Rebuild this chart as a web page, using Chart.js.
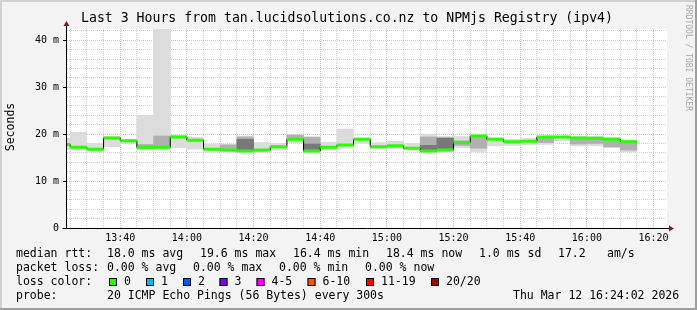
<!DOCTYPE html>
<html>
<head>
<meta charset="utf-8">
<script src="https://cdn.jsdelivr.net/npm/chart.js@4.4.1/dist/chart.umd.min.js"></script>
<style>
  html, body { margin: 0; padding: 0; background: #f3f3f3; }
  #smoke { display: block; }
</style>
</head>
<body>
<canvas id="smoke" width="697" height="310"></canvas>
<script>
// 5 minute slots (start time), median rtt and smoke ranges in ms
const slotStarts = ['13:20','13:25','13:30','13:35','13:40','13:45','13:50','13:55','14:00','14:05',
  '14:10','14:15','14:20','14:25','14:30','14:35','14:40','14:45','14:50','14:55',
  '15:00','15:05','15:10','15:15','15:20','15:25','15:30','15:35','15:40','15:45',
  '15:50','15:55','16:00','16:05','16:10'];
const medianRtt = [17.8,17.2,16.8,19.2,18.6,17.2,17.2,19.4,18.7,16.8,
  16.6,16.4,16.6,17.3,18.9,16.4,17.2,17.7,18.9,17.3,
  17.5,17.0,16.4,16.6,18.2,19.6,18.9,18.4,18.5,19.4,
  19.4,19.2,19.1,18.9,18.4];
const smokeLow = [16.7,16.8,16.4,17.3,18.1,16.7,16.8,17.1,16.8,16.5,
  16.4,16.3,16.3,16.6,18.2,16.3,16.7,17.0,18.0,16.9,
  17.1,16.8,16.2,16.5,17.1,16.2,17.5,17.6,17.7,17.8,
  18.6,17.5,17.5,17.1,16.2];
const smokeHigh = [19.1,20.4,18.0,19.5,18.9,24.0,42.5,19.8,19.3,17.9,
  17.8,19.6,18.2,18.0,19.8,19.5,18.3,21.1,19.2,18.2,
  18.5,18.0,20.0,19.5,19.5,19.7,19.2,18.9,19.1,19.6,
  19.5,19.5,19.5,19.3,18.7];
const midLow = [null,null,null,null,null,16.9,17.0,null,null,null,
  16.5,16.4,null,null,18.9,16.4,null,null,null,null,
  null,null,16.6,16.6,17.6,17.0,null,null,null,18.2,
  null,17.9,18.0,17.3,16.6];
const midHigh = [null,null,null,null,null,17.8,19.6,null,null,null,
  17.7,19.4,null,null,19.8,19.3,null,null,null,null,
  null,null,19.4,19.3,18.6,19.4,null,null,null,19.2,
  null,19.0,19.1,18.9,18.4];
const darkLow = [null,null,null,null,null,null,null,null,null,null,
  null,16.6,null,null,null,16.5,null,null,null,null,
  null,null,16.6,16.9,null,null,null,null,null,null,
  null,null,null,null,null];
const darkHigh = [null,null,null,null,null,null,null,null,null,null,
  null,18.9,null,null,null,17.9,null,null,null,null,
  null,null,17.6,19.1,null,null,null,null,null,null,
  null,null,null,null,null];

const yTickValues = [0, 10, 20, 30, 40];
const yTickLabels = ['0', '10 m', '20 m', '30 m', '40 m'];
const xTickLabels = ['13:40','14:00','14:20','14:40','15:00','15:20','15:40','16:00','16:20'];

const lossLabels = ['0', '1', '2', '3', '4-5', '6-10', '11-19', '20/20'];
const lossColors = ['#26ff00', '#00b8ff', '#0059ff', '#7e00ff', '#ff00ff', '#ff5500', '#ff0000', '#a10000'];

const STEP = 5;
const toMin = s => { const p = s.split(':'); return parseInt(p[0]) * 60 + parseInt(p[1]); };
const fmtMin = v => {
    const h = Math.floor(v / 60), m = Math.round(v % 60);
    return h + ':' + (m < 10 ? '0' : '') + m;
};
const xMin = toMin('13:24') + 2 / 60;
const xMax = toMin('16:24') + 2 / 60;
const starts = slotStarts.map(toMin);

function rangeBars(lo, hi) {
    const out = [];
    starts.forEach((s, i) => {
        if (lo[i] == null || hi[i] == null) return;
        out.push({ x: s + STEP / 2, y: [lo[i], hi[i]] });
    });
    return out;
}

// groene mediaan: alleen horizontale stukjes
const greenSegs = [];
starts.forEach((s, i) => {
    greenSegs.push({ x: s, y: medianRtt[i] });
    greenSegs.push({ x: s + STEP, y: medianRtt[i] });
    greenSegs.push({ x: s + STEP, y: null });
});
// zwarte trap-lijn voor de verticale overgangen
const stepLine = starts.map((s, i) => ({ x: s, y: medianRtt[i] }));
stepLine.push({ x: starts[starts.length - 1] + STEP, y: medianRtt[medianRtt.length - 1] });

const MONO = '"DejaVu Sans Mono", monospace';
Chart.defaults.font.family = MONO;
Chart.defaults.color = '#000';

const decor = {
    id: 'decor',
    beforeDraw(chart) {
        const ctx = chart.ctx, a = chart.chartArea;
        ctx.save();
        ctx.fillStyle = '#f3f3f3';
        ctx.fillRect(0, 0, chart.width, chart.height);
        ctx.fillStyle = '#ffffff';
        ctx.fillRect(a.left, a.top, a.right - a.left, a.bottom - a.top);
        ctx.restore();
    },
    afterDraw(chart) {
        const ctx = chart.ctx, a = chart.chartArea;
        const W = chart.width, H = chart.height;
        ctx.save();
        // frame
        ctx.fillStyle = '#d0d0d0';
        ctx.fillRect(0, 0, W, 2);
        ctx.fillRect(0, 0, 2, H);
        ctx.fillStyle = '#9e9e9e';
        ctx.fillRect(0, H - 2, W, 2);
        ctx.fillRect(W - 2, 0, 2, H);

        // axes
        const x0 = Math.round(a.left) - 0.5, y0 = Math.round(a.bottom) + 0.5;
        ctx.strokeStyle = '#000';
        ctx.lineWidth = 1;
        ctx.beginPath();
        ctx.moveTo(x0, y0);
        ctx.lineTo(x0, a.top - 4);
        ctx.moveTo(x0 - 4, y0);
        ctx.lineTo(a.right + 3, y0);
        ctx.stroke();
        ctx.fillStyle = '#8b1a1a';
        ctx.beginPath();
        ctx.moveTo(x0 - 3, a.top - 3);
        ctx.lineTo(x0 + 3, a.top - 3);
        ctx.lineTo(x0, a.top - 8);
        ctx.closePath();
        ctx.fill();
        ctx.beginPath();
        ctx.moveTo(a.right + 2, y0 - 3);
        ctx.lineTo(a.right + 2, y0 + 3);
        ctx.lineTo(a.right + 7, y0);
        ctx.closePath();
        ctx.fill();

        // title
        ctx.fillStyle = '#000';
        ctx.textBaseline = 'middle';
        ctx.textAlign = 'center';
        ctx.font = '13.2px ' + MONO;
        ctx.fillText('Last 3 Hours from tan.lucidsolutions.co.nz to NPMjs Registry (ipv4)', 347, 19);

        // y title
        ctx.save();
        ctx.translate(11, 127);
        ctx.rotate(-Math.PI / 2);
        ctx.font = '11.5px ' + MONO;
        ctx.fillText('Seconds', 0, 0);
        ctx.restore();

        // watermark
        ctx.save();
        ctx.translate(688, 5);
        ctx.rotate(Math.PI / 2);
        ctx.textAlign = 'left';
        ctx.fillStyle = '#a8a8a8';
        ctx.font = '8px ' + MONO;
        ctx.fillText('RRDTOOL / TOBI OETIKER', 0, 0);
        ctx.restore();

        // legend
        ctx.textAlign = 'left';
        ctx.font = '11.5px ' + MONO;
        const put = (t, x, y) => ctx.fillText(t, x, y);
        put('median rtt:', 16, 254);
        put('18.0 ms avg', 107, 254);
        put('19.6 ms max', 200, 254);
        put('16.4 ms min', 293, 254);
        put('18.4 ms now', 386, 254);
        put('1.0 ms sd', 479, 254);
        put('17.2', 558, 254);
        put('am/s', 607, 254);

        put('packet loss:', 16, 268);
        put('0.00 % avg', 107, 268);
        put('0.00 % max', 193, 268);
        put('0.00 % min', 279, 268);
        put('0.00 % now', 365, 268);

        put('loss color:', 16, 282);
        const boxX = [109, 146, 183, 219.5, 256.5, 307.5, 366, 431];
        lossLabels.forEach((lab, i) => {
            ctx.fillStyle = lossColors[i];
            ctx.fillRect(boxX[i], 278, 8, 8);
            ctx.strokeStyle = '#000';
            ctx.strokeRect(boxX[i] + 0.5, 278.5, 7, 7);
            ctx.fillStyle = '#000';
            put(lab, boxX[i] + 15, 282);
        });

        put('probe:', 16, 296);
        put('20 ICMP Echo Pings (56 Bytes) every 300s', 107, 296);
        put('Thu Mar 12 16:24:02 2026', 513, 296);
        ctx.restore();
    }
};

const minorGrid = 'rgba(175,175,175,0.6)';
const majorGrid = 'rgba(240,120,120,0.6)';
const tickVal = c => (c.tick ? c.tick.value : NaN);

new Chart(document.getElementById('smoke'), {
    type: 'bar',
    data: {
        datasets: [
            { type: 'line', data: greenSegs, borderColor: lossColors[0], borderWidth: 3,
              pointRadius: 0, spanGaps: false, fill: false, order: 0 },
            { type: 'line', data: stepLine, borderColor: '#000', borderWidth: 1, stepped: 'before',
              pointRadius: 0, fill: false, order: 1 },
            { data: rangeBars(darkLow, darkHigh), backgroundColor: '#787878', grouped: false, order: 2 },
            { data: rangeBars(midLow, midHigh), backgroundColor: '#b0b0b0', grouped: false, order: 3 },
            { data: rangeBars(smokeLow, smokeHigh), backgroundColor: '#dcdcdc', grouped: false, order: 4 }
        ]
    },
    options: {
        responsive: false,
        animation: false,
        events: [],
        layout: { padding: { left: 5, right: 30, top: 29, bottom: 62 } },
        datasets: { bar: { barPercentage: 1, categoryPercentage: 1, borderWidth: 0 } },
        plugins: { legend: { display: false }, tooltip: { enabled: false }, title: { display: false } },
        scales: {
            x: {
                type: 'linear',
                min: xMin,
                max: xMax,
                offset: false,
                border: { display: false, dash: [1, 1] },
                grid: {
                    offset: false,
                    color: c => (Math.round(tickVal(c)) % 20 === 0 ? majorGrid : minorGrid),
                    tickColor: 'rgba(0,0,0,0)',
                    tickLength: 4,
                    lineWidth: 1
                },
                afterBuildTicks: s => {
                    const t = [];
                    for (let v = Math.ceil(xMin / STEP) * STEP; v < xMax; v += STEP) t.push({ value: v });
                    s.ticks = t;
                },
                ticks: {
                    autoSkip: false,
                    maxRotation: 0,
                    minRotation: 0,
                    padding: 0,
                    font: { size: 10 },
                    callback: v => (xTickLabels.includes(fmtMin(v)) ? fmtMin(v) : '')
                },
                afterFit: s => { s.height = 20; }
            },
            y: {
                min: 0,
                max: 42.4,
                stacked: false,
                border: { display: false, dash: [1, 1] },
                grid: {
                    color: c => (yTickValues.includes(tickVal(c)) && tickVal(c) > 0 ? majorGrid : minorGrid),
                    tickColor: c => (yTickValues.includes(tickVal(c)) ? '#000' : 'rgba(0,0,0,0)'),
                    tickLength: 4,
                    lineWidth: 1
                },
                ticks: {
                    stepSize: 2,
                    includeBounds: false,
                    autoSkip: false,
                    padding: 4,
                    font: { size: 10 },
                    callback: v => {
                        const i = yTickValues.indexOf(v);
                        return i >= 0 ? yTickLabels[i] : '';
                    }
                },
                afterFit: s => { s.width = 62; }
            }
        }
    },
    plugins: [decor]
});
</script>
</body>
</html>
